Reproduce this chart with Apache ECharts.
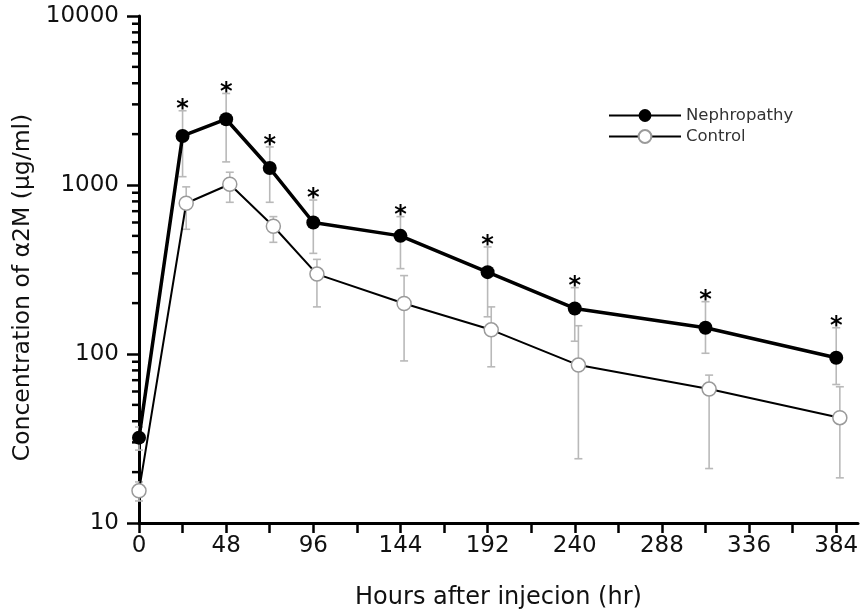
<!DOCTYPE html>
<html>
<head>
<meta charset="utf-8">
<script src="https://cdn.jsdelivr.net/npm/echarts@6/dist/echarts.min.js"></script>
<style>
  html, body { margin: 0; padding: 0; background: #fff; }
  #chart { width: 861px; height: 613px; }
</style>
</head>
<body>
<div id="chart"></div>
<script>
// values
const nephHours = [0, 24, 48, 72, 96, 144, 192, 240, 312, 384];
const nephMean = [32, 1950, 2450, 1260, 600, 500, 305, 186, 143, 95];
const nephUpper = [37, 2750, 3480, 1680, 815, 650, 430, 247, 204, 143];
const nephLower = [27, 1120, 1370, 790, 394, 320, 166, 119, 101, 66];

// control points sit a little to the right in the original
const controlHours = [0, 26, 50, 74, 98, 146, 194, 242, 314, 386];
const controlMean = [15.5, 780, 1010, 570, 297, 199, 139, 86, 62, 42];
const controlUpper = [17.5, 975, 1190, 650, 363, 291, 190, 147, 75, 64];
const controlLower = [13.5, 547, 790, 458, 190, 91, 84, 24, 21, 18.5];

const xTickValues = [0, 24, 48, 72, 96, 120, 144, 168, 192, 216, 240, 264, 288, 312, 336, 360, 384];
const xLabelValues = [0, 48, 96, 144, 192, 240, 288, 336, 384];
const yMinorTicks = [20, 30, 40, 50, 60, 70, 80, 90, 200, 300, 400, 500, 600, 700, 800, 900,
  2000, 3000, 4000, 5000, 6000, 7000, 8000, 9000];

const font = 'DejaVu Sans';
const chart = echarts.init(document.getElementById('chart'));

function errorBar(params, api) {
  const x = api.value(0);
  const lo = api.coord([x, api.value(1)]);
  const hi = api.coord([x, api.value(2)]);
  const cap = 4;
  const style = { stroke: '#b9b9b9', lineWidth: 1.6 };
  return {
    type: 'group',
    children: [
      { type: 'line', shape: { x1: lo[0], y1: lo[1], x2: hi[0], y2: hi[1] }, style: style },
      { type: 'line', shape: { x1: hi[0] - cap, y1: hi[1], x2: hi[0] + cap, y2: hi[1] }, style: style },
      { type: 'line', shape: { x1: lo[0] - cap, y1: lo[1], x2: lo[0] + cap, y2: lo[1] }, style: style }
    ]
  };
}

// significance asterisk just above the upper cap
function star(params, api) {
  const p = api.coord([api.value(0), api.value(1)]);
  return {
    type: 'text',
    x: p[0],
    y: p[1] - 1,
    style: { text: '*', font: 'bold 24px ' + font, fill: '#000', align: 'center', verticalAlign: 'middle' }
  };
}

// log minor ticks (2..9 of each decade) on the left of the y axis
function minorTick(params, api) {
  const p = api.coord([0, api.value(0)]);
  return {
    type: 'line',
    shape: { x1: p[0] - 7, y1: p[1], x2: p[0], y2: p[1] },
    style: { stroke: '#000', lineWidth: 2.5 }
  };
}

const option = {
  animation: false,
  grid: { left: 139, right: 3, top: 16, bottom: 90, outerBoundsMode: 'none' },
  legend: {
    orient: 'vertical',
    left: 603,
    top: 102,
    itemWidth: 72,
    itemHeight: 16,
    itemGap: 4,
    textStyle: { fontFamily: font, fontSize: 16.5, color: '#333' },
    data: ['Nephropathy', 'Control']
  },
  xAxis: {
    type: 'value',
    min: 0,
    max: 396,
    name: 'Hours after injecion (hr)',
    nameLocation: 'middle',
    nameGap: 63,
    nameTextStyle: { fontFamily: font, fontSize: 24, color: '#111' },
    axisLine: { show: true, lineStyle: { color: '#000', width: 3 } },
    axisTick: { show: true, customValues: xTickValues, length: 10, lineStyle: { color: '#000', width: 2.5 } },
    axisLabel: { customValues: xLabelValues, margin: 12, fontFamily: font, fontSize: 23, color: '#111' },
    splitLine: { show: false }
  },
  yAxis: {
    type: 'log',
    logBase: 10,
    min: 10,
    max: 10000,
    name: 'Concentration of α2M (μg/ml)',
    nameLocation: 'middle',
    nameGap: 104,
    nameTextStyle: { fontFamily: font, fontSize: 23.5, color: '#111', padding: [0, 36, 0, 0] },
    axisLine: { show: true, lineStyle: { color: '#000', width: 3 } },
    axisTick: { show: true, length: 12, lineStyle: { color: '#000', width: 2.5 } },
    axisLabel: { margin: 20, fontFamily: font, fontSize: 23, color: '#111', formatter: v => String(v) },
    splitLine: { show: false }
  },
  series: [
    {
      type: 'custom',
      name: 'minor ticks',
      silent: true,
      clip: false,
      renderItem: minorTick,
      encode: { y: 0 },
      data: yMinorTicks.map(v => [v]),
      z: 5
    },
    {
      type: 'custom',
      name: 'neph error',
      silent: true,
      renderItem: errorBar,
      encode: { x: 0, y: [1, 2] },
      data: nephHours.map((h, i) => [h, nephLower[i], nephUpper[i]]),
      z: 1
    },
    {
      type: 'custom',
      name: 'control error',
      silent: true,
      renderItem: errorBar,
      encode: { x: 0, y: [1, 2] },
      data: controlHours.map((h, i) => [h, controlLower[i], controlUpper[i]]),
      z: 1
    },
    {
      type: 'custom',
      name: 'stars',
      silent: true,
      renderItem: star,
      encode: { x: 0, y: 1 },
      data: nephHours.map((h, i) => [h, nephUpper[i]]).slice(1),
      z: 6
    },
    {
      type: 'line',
      name: 'Control',
      data: controlHours.map((h, i) => [h, controlMean[i]]),
      symbol: 'circle',
      symbolSize: 14,
      lineStyle: { color: '#000', width: 2 },
      itemStyle: { color: '#fff', borderColor: '#9a9a9a', borderWidth: 1.5 },
      z: 3
    },
    {
      type: 'line',
      name: 'Nephropathy',
      data: nephHours.map((h, i) => [h, nephMean[i]]),
      symbol: 'circle',
      symbolSize: 14,
      lineStyle: { color: '#000', width: 3.5 },
      itemStyle: { color: '#000' },
      z: 4
    }
  ]
};

chart.setOption(option);
</script>
</body>
</html>
